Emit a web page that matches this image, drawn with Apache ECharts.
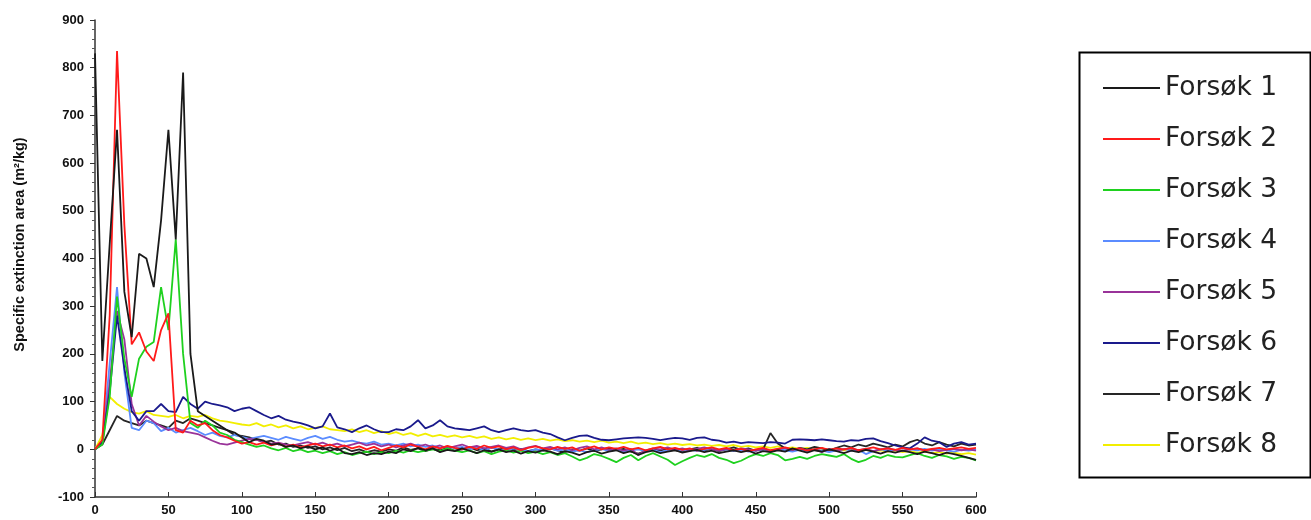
<!DOCTYPE html>
<html>
<head>
<meta charset="utf-8">
<title>Specific extinction area</title>
<script src="https://cdn.jsdelivr.net/npm/echarts@6/dist/echarts.min.js"></script>
<style>
  html, body { margin: 0; padding: 0; background: #fff; }
  #chart { width: 1311px; height: 520px; }
</style>
</head>
<body>
<div id="chart"></div>
<script>
// Time axis (s): one sample every 5 s from 0 to 600
const seconds = Array.from({ length: 121 }, (_, i) => i * 5);

const seriesNames = ['Forsøk 1', 'Forsøk 2', 'Forsøk 3', 'Forsøk 4', 'Forsøk 5', 'Forsøk 6', 'Forsøk 7', 'Forsøk 8'];
const seriesColors = ['#1a1a1a', '#ff1a1a', '#1fd11f', '#5b8cff', '#993399', '#1a1a8c', '#262626', '#f2ee00'];

// Specific extinction area (m²/kg) per test, aligned with `seconds`
const forsok1 = [830, 185, 430, 670, 330, 235, 410, 400, 340, 480, 670, 440, 790, 200, 80, 70, 60, 50, 40, 35,
  25, 15, 22, 18, 10, 12, 5, 8, 2, 6, 0, 4, -3, 2, -8, -10, -6, -12, -8, -10,
  -5, -8, 0, -4, 3, -2, 2, -6, -1, -4, 2, -3, -8, -2, -5, 0, -6, -3, -9, -4,
  -7, -2, -5, -10, -4, -7, -12, -6, -3, -9, -5, -2, -8, -4, -12, -6, -3, -8, -5, -2,
  -7, -4, -1, -6, -3, -8, -5, -2, -6, -3, -9, -4, -6, -2, -5, 2, -3, -7, -2, -5,
  0, -4, -8, -3, -6, -1, -5, -9, -4, -7, -3, -6, -10, -5, -8, -12, -7, -10, -14, -18, -22];

const forsok2 = [0, 20, 280, 835, 470, 220, 245, 205, 185, 250, 285, 40, 35, 60, 50, 55, 40, 30, 25, 18,
  12, 15, 10, 14, 8, 12, 5, 10, 4, 8, 12, 6, 10, 4, 8, 2, 6, 0, 5, -2,
  3, 8, 4, 10, 5, 0, 6, 2, 7, 3, 0, 5, 1, 8, 3, 6, 0, 4, -2, 3,
  6, 2, 0, 5, 1, 4, -3, 2, 6, 0, 4, 1, 5, 0, 3, -2, 2, 5, 0, 3,
  -1, 2, -3, 1, 4, 0, 3, -2, 1, -4, 0, 3, -2, 1, 4, 0, 2, -3, 0, 3,
  -1, 2, 0, 3, -2, 1, 4, 0, 2, -1, 3, 0, 2, -2, 1, 3, 0, 2, 4, 1, 3];

const forsok3 = [0, 10, 110, 320, 190, 110, 190, 215, 225, 340, 250, 440, 200, 55, 45, 60, 50, 35, 30, 20,
  15, 10, 5, 8, 2, -2, 3, -4, 0, -6, -3, -8, -4, -10, -6, -12, -8, -5, -10, -6,
  -8, -3, -7, -2, -6, -3, 0, -4, 2, -3, -6, -2, -8, -4, -10, -5, -2, -7, -3, -8,
  -5, -10, -6, -12, -8, -15, -23, -18, -10, -14, -20, -27, -18, -12, -23, -14, -8, -15, -22, -33,
  -25, -18, -12, -16, -10, -18, -22, -29, -24, -16, -10, -14, -8, -12, -23, -20, -16, -20, -14, -10,
  -13, -16, -10, -20, -27, -22, -14, -18, -12, -16, -17, -12, -8, -14, -18, -12, -15, -20, -16, -18, -23];

const forsok4 = [0, 15, 180, 340, 160, 45, 40, 60, 55, 38, 45, 35, 40, 45, 38, 30, 35, 28, 25, 30,
  26, 22, 25, 28, 24, 20, 26, 22, 18, 24, 28, 22, 26, 20, 16, 18, 14, 12, 16, 10,
  12, 8, 12, 6, 10, 5, 8, 3, 6, 2, 5, 0, 4, -2, 3, 0, -3, 2, -1, -4,
  0, -2, 2, -3, 0, -5, -2, -6, -2, 1, -4, -1, -5, -2, 0, -4, -1, -6, -2, 1,
  -3, 0, -4, -1, 2, -2, 0, -4, -1, -5, -2, 0, -3, 1, -2, -5, -1, -4, 0, -3,
  -6, -2, 1, -3, -1, -10, -4, 0, -3, -1, -4, 0, -2, 1, -3, 0, -2, -5, -1, -3, 0];

const forsok5 = [0, 12, 140, 290, 230, 95, 50, 70, 58, 48, 40, 45, 38, 35, 32, 25, 18, 12, 10, 14,
  18, 22, 20, 16, 12, 14, 10, 8, 12, 15, 10, 14, 8, 12, 6, 10, 14, 8, 12, 6,
  10, 4, 8, 12, 6, 10, 4, 8, 2, 6, 10, 4, 7, 2, 5, 8, 3, 6, 0, 4,
  7, 2, 5, 0, 4, -2, 3, 6, 0, 4, -1, 2, -3, 1, -12, -2, 2, 0, 4, -1,
  2, -2, 1, 4, 0, -3, 1, -2, 2, 0, -3, 1, -4, 0, 3, -1, 2, -2, 0, -6,
  1, -3, 0, 2, -2, 1, -4, 0, 2, -1, -3, 0, 2, -2, 0, -4, -1, 1, -2, 0, -3];

const forsok6 = [0, 15, 120, 280, 170, 80, 60, 80, 80, 95, 80, 78, 110, 95, 85, 100, 95, 92, 88, 80,
  85, 88, 80, 72, 65, 70, 62, 58, 55, 50, 44, 48, 75, 46, 42, 36, 44, 50, 42, 36,
  36, 42, 40, 48, 61, 44, 50, 61, 48, 44, 42, 40, 44, 48, 40, 36, 40, 44, 40, 38,
  40, 35, 32, 25, 19, 24, 28, 29, 24, 20, 19, 21, 23, 24, 25, 24, 22, 19, 22, 24,
  23, 20, 24, 25, 20, 18, 14, 16, 13, 15, 14, 13, 15, 14, 12, 20, 21, 20, 19, 21,
  19, 17, 16, 19, 18, 22, 23, 17, 13, 8, 4, 2, 12, 25, 18, 15, 5, 12, 15, 10, 12];

const forsok7 = [0, 10, 40, 70, 60, 55, 50, 60, 55, 50, 45, 60, 55, 65, 60, 55, 50, 45, 40, 30,
  28, 25, 20, 15, 18, 10, 12, 5, 8, 3, 6, 0, 4, -2, 3, -4, 0, -6, -2, -5,
  0, -3, 4, -1, 2, -4, 1, -2, 3, -3, 0, 4, -2, 2, -5, 0, 3, -2, 1, -4,
  0, -3, 2, -2, -6, 0, -3, 2, -4, 0, 3, -2, 1, -5, -9, -4, 0, -3, 2, -2,
  -5, 0, 3, -2, 1, -4, 0, 4, -1, 2, -3, 0, 34, 12, 2, -3, 3, 0, 5, 2,
  -2, 3, 8, 4, 10, 6, 12, 8, 4, 10, 6, 15, 20, 12, 8, 15, 10, 6, 12, 8, 10];

const forsok8 = [0, 30, 110, 95, 85, 78, 75, 80, 72, 70, 68, 72, 65, 70, 68, 72, 65, 60, 58, 55,
  52, 50, 55, 48, 52, 46, 50, 44, 48, 42, 45, 48, 42, 40, 38, 42, 36, 40, 34, 38,
  32, 36, 30, 34, 28, 33, 27, 30, 26, 29, 25, 28, 24, 27, 22, 25, 21, 24, 20, 23,
  19, 22, 18, 21, 17, 19, 16, 18, 15, 18, 14, 16, 13, 16, 12, 14, 11, 13, 10, 12,
  9, 11, 8, 10, 7, 9, 6, 9, 5, 7, 4, 6, 3, 6, 2, 4, 1, 3, 0, 2,
  -1, 1, -2, 1, -3, -1, -4, -2, -5, -2, -6, -4, -7, -5, -8, -6, -9, -7, -10, -8, -11];

const seriesValues = [forsok1, forsok2, forsok3, forsok4, forsok5, forsok6, forsok7, forsok8];

// Higher z for the tests whose peaks sit on top of the others
const seriesZ = [9, 8, 7, 4, 5, 6, 3, 2];

const chart = echarts.init(document.getElementById('chart'), null, { renderer: 'canvas' });

const axisText = { color: '#111', fontFamily: 'Liberation Sans, Arial, sans-serif', fontWeight: 'bold', fontSize: 13 };

chart.setOption({
  animation: false,
  backgroundColor: '#fff',
  color: seriesColors,
  grid: { left: 95, right: 335, top: 20, bottom: 23 },
  xAxis: {
    type: 'value',
    min: 0,
    max: 600,
    interval: 50,
    axisLine: { onZero: false, lineStyle: { color: '#333', width: 1.5 } },
    axisTick: { show: true, inside: true, length: 5, lineStyle: { color: '#333' } },
    axisLabel: Object.assign({ margin: 7 }, axisText),
    splitLine: { show: false }
  },
  yAxis: {
    type: 'value',
    min: -100,
    max: 900,
    interval: 100,
    name: 'Specific extinction area (m²/kg)',
    nameLocation: 'middle',
    nameGap: 68,
    nameTextStyle: { color: '#111', fontFamily: 'Liberation Sans, Arial, sans-serif', fontWeight: 'bold', fontSize: 14.5, padding: [0, 0, 0, 28] },
    axisLine: { show: true, lineStyle: { color: '#333', width: 1.5 } },
    axisTick: { show: true, length: 5, lineStyle: { color: '#333' } },
    minorTick: { show: true, splitNumber: 5, length: 3, lineStyle: { color: '#555' } },
    axisLabel: Object.assign({ margin: 11 }, axisText),
    splitLine: { show: false }
  },
  legend: {
    orient: 'vertical',
    left: 1103,
    top: 67,
    padding: 0,
    icon: 'rect',
    itemWidth: 57,
    itemHeight: 2,
    itemGap: 9,
    itemTextGap: 9,
    selectedMode: false,
    data: seriesNames,
    textStyle: {
      fontFamily: 'DejaVu Sans, sans-serif',
      fontSize: 26.5,
      lineHeight: 30,
      color: '#222',
      padding: [0, 0, 12, 0]
    }
  },
  graphic: [{
    type: 'rect',
    left: 1077,
    top: 50,
    shape: { width: 231, height: 425 },
    style: { fill: 'none', stroke: '#000', lineWidth: 2 },
    silent: true
  }],
  series: seriesNames.map((name, k) => ({
    name,
    type: 'line',
    data: seconds.map((t, i) => [t, seriesValues[k][i]]),
    showSymbol: false,
    symbol: 'none',
    z: seriesZ[k],
    lineStyle: { width: 1.8, color: seriesColors[k] },
    itemStyle: { color: seriesColors[k] }
  }))
});
</script>
</body>
</html>
